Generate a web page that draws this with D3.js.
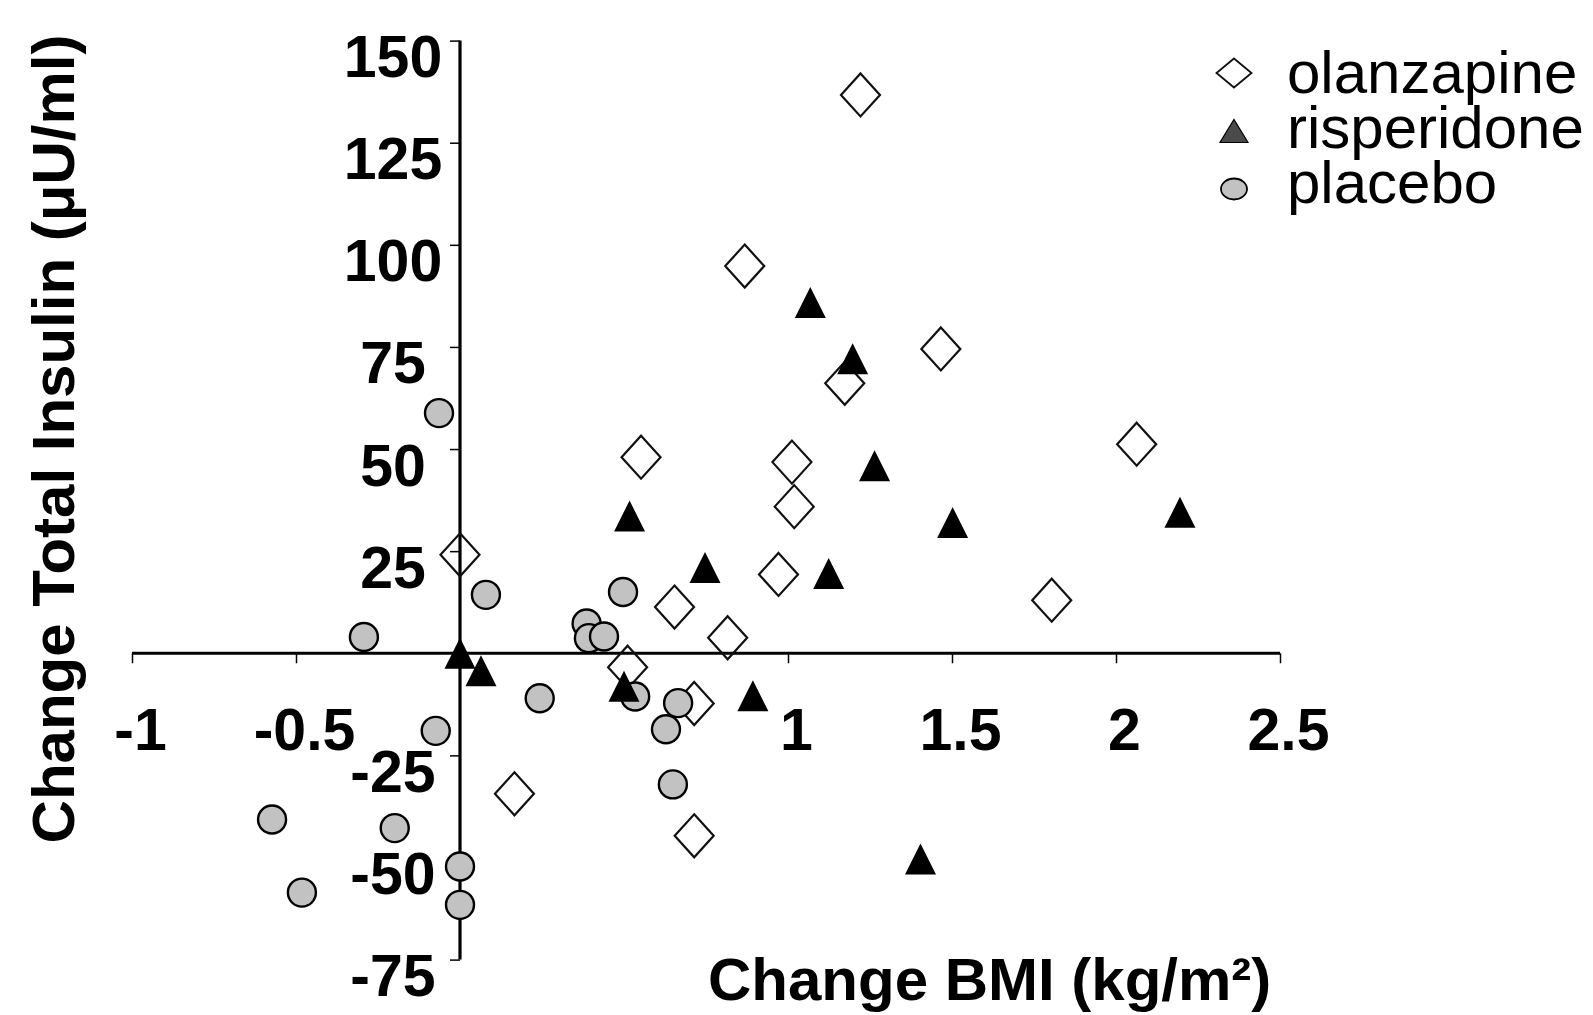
<!DOCTYPE html>
<html>
<head>
<meta charset="utf-8">
<script src="https://cdn.jsdelivr.net/npm/d3@7/dist/d3.min.js"></script>
<style>
  html, body { margin: 0; padding: 0; background: #fff; }
  svg { display: block; }
</style>
</head>
<body>
<svg id="chart" width="1593" height="1015"></svg>
<script>
// ---- data (Change BMI kg/m2, Change Total Insulin µU/ml) ----
const seriesNames = ["olanzapine", "risperidone", "placebo"];

const olanzapineBMI     = [1.221, 0.868, 1.466, 1.173, 0.552, 1.012, 2.063, 1.019, 0.0, 0.971, 0.654, 1.804, 0.816, 0.511, 0.714, 0.166, 0.714];
const olanzapineInsulin = [136.7, 94.8, 74.5, 66.1, 48.0, 46.8, 51.2, 35.9, 24.1, 19.3, 11.3, 13.0, 3.8, -3.4, -12.3, -34.4, -44.7];

const risperidoneBMI     = [1.068, 1.197, 1.264, 0.517, 1.502, 2.195, 0.747, 1.124, 0.0, 0.064, 0.5, 0.893, 1.404];
const risperidoneInsulin = [85.9, 72.1, 45.9, 33.6, 32.0, 34.5, 21.0, 19.5, 0.0, -4.3, -8.1, -10.4, -50.4];

const placeboBMI     = [-0.064, 0.079, -0.293, 0.497, 0.386, 0.393, 0.439, 0.243, 0.534, 0.665, 0.628, -0.074, 0.649, -0.573, -0.199, 0.0, -0.482, 0.0];
const placeboInsulin = [58.8, 14.3, 4.0, 15.0, 7.3, 3.7, 4.1, -11.0, -10.6, -12.2, -18.6, -19.0, -32.1, -40.7, -42.8, -52.2, -58.6, -61.6];

const xTicks = [-1, -0.5, 1, 1.5, 2, 2.5];
const xTickLabels = ["-1", "-0.5", "1", "1.5", "2", "2.5"];
const yTicks = [-75, -50, -25, 25, 50, 75, 100, 125, 150];
const yTickLabels = ["-75", "-50", "-25", "25", "50", "75", "100", "125", "150"];
const xTitle = "Change BMI (kg/m²)";
const yTitle = "Change Total Insulin (μU/ml)";

// ---- drawing ----
const svg = d3.select("#chart");
const x = d3.scaleLinear().domain([-1, 2.5]).range([132, 1280]);
const y = d3.scaleLinear().domain([-75, 150]).range([959.6, 40.6]);

const FONT = "'Liberation Sans', Arial, Helvetica, sans-serif";

// X axis at y = 0
const gx = svg.append("g")
  .attr("transform", `translate(0,${y(0)})`)
  .call(d3.axisBottom(x).tickValues(xTicks).tickSize(10).tickSizeOuter(0)
    .tickFormat((d, i) => xTickLabels[i]));
gx.select(".domain").attr("stroke", "#000").attr("stroke-width", 3.2)
  .attr("d", `M${x(-1)},0H${x(2.5)}`);
gx.selectAll(".tick line").attr("stroke", "#000").attr("stroke-width", 1.5);
gx.selectAll(".tick text")
  .attr("dy", null).attr("y", 97).attr("dx", 8)
  .attr("fill", "#000")
  .style("font-family", FONT).style("font-weight", "bold").style("font-size", "59px");

// Y axis at x = 0
const gy = svg.append("g")
  .attr("transform", `translate(${x(0)},0)`)
  .call(d3.axisLeft(y).tickValues(yTicks).tickSize(10).tickSizeOuter(0)
    .tickFormat((d, i) => yTickLabels[i]));
gy.select(".domain").attr("stroke", "#000").attr("stroke-width", 3.2)
  .attr("d", `M0,${y(-75)}V${y(150)}`);
gy.selectAll(".tick line").attr("stroke", "#000").attr("stroke-width", 1.5);
gy.selectAll(".tick text")
  .attr("dy", null).attr("y", 36).attr("x", -67)
  .attr("text-anchor", "middle")
  .attr("fill", "#000")
  .style("font-family", FONT).style("font-weight", "bold").style("font-size", "59px");

// marker shapes
function diamondPath(w, h) {
  return `M0,${-h/2}L${w/2},0L0,${h/2}L${-w/2},0Z`;
}
function trianglePath(w, h) {
  return `M0,${-h/2}L${w/2},${h/2}L${-w/2},${h/2}Z`;
}

const olz = d3.zip(olanzapineBMI, olanzapineInsulin);
const ris = d3.zip(risperidoneBMI, risperidoneInsulin);
const pla = d3.zip(placeboBMI, placeboInsulin);

// olanzapine: open diamonds
svg.append("g").selectAll("path").data(olz).join("path")
  .attr("transform", d => `translate(${x(d[0])},${y(d[1])})`)
  .attr("d", diamondPath(39, 43))
  .attr("fill", "none").attr("stroke", "#111").attr("stroke-width", 2.2);

// placebo: grey circles
svg.append("g").selectAll("circle").data(pla).join("circle")
  .attr("cx", d => x(d[0])).attr("cy", d => y(d[1])).attr("r", 14)
  .attr("fill", "#c2c2c2").attr("stroke", "#000").attr("stroke-width", 2.4);

// risperidone: filled triangles
svg.append("g").selectAll("path").data(ris).join("path")
  .attr("transform", d => `translate(${x(d[0])},${y(d[1])})`)
  .attr("d", trianglePath(31, 31))
  .attr("fill", "#000");

// axis titles
svg.append("text")
  .attr("x", 708).attr("y", 1000)
  .attr("fill", "#000")
  .style("font-family", FONT).style("font-weight", "bold").style("font-size", "60px")
  .text(xTitle);

svg.append("text")
  .attr("transform", "translate(74,439) rotate(-90)")
  .attr("text-anchor", "middle")
  .attr("fill", "#000")
  .style("font-family", FONT).style("font-weight", "bold").style("font-size", "60px")
  .text(yTitle);

// legend
const legendY = [93, 148, 203];
const lg = svg.append("g");
seriesNames.forEach((name, i) => {
  const cy = legendY[i] - 20;
  const row = lg.append("g").attr("transform", `translate(1234,${cy})`);
  if (i === 0) {
    row.append("path").attr("d", diamondPath(35, 29))
      .attr("fill", "none").attr("stroke", "#111").attr("stroke-width", 1.8);
  } else if (i === 1) {
    row.append("path").attr("d", trianglePath(28, 23))
      .attr("transform", "translate(0,3)")
      .attr("fill", "#4a4a4a").attr("stroke", "#000").attr("stroke-width", 1.2);
  } else {
    row.append("ellipse").attr("rx", 13).attr("ry", 10.5).attr("cy", 6)
      .attr("fill", "#c2c2c2").attr("stroke", "#000").attr("stroke-width", 1.8);
  }
  lg.append("text")
    .attr("x", 1287).attr("y", legendY[i])
    .attr("fill", "#000")
    .style("font-family", FONT).style("font-size", "60px")
    .text(name);
});
</script>
</body>
</html>
